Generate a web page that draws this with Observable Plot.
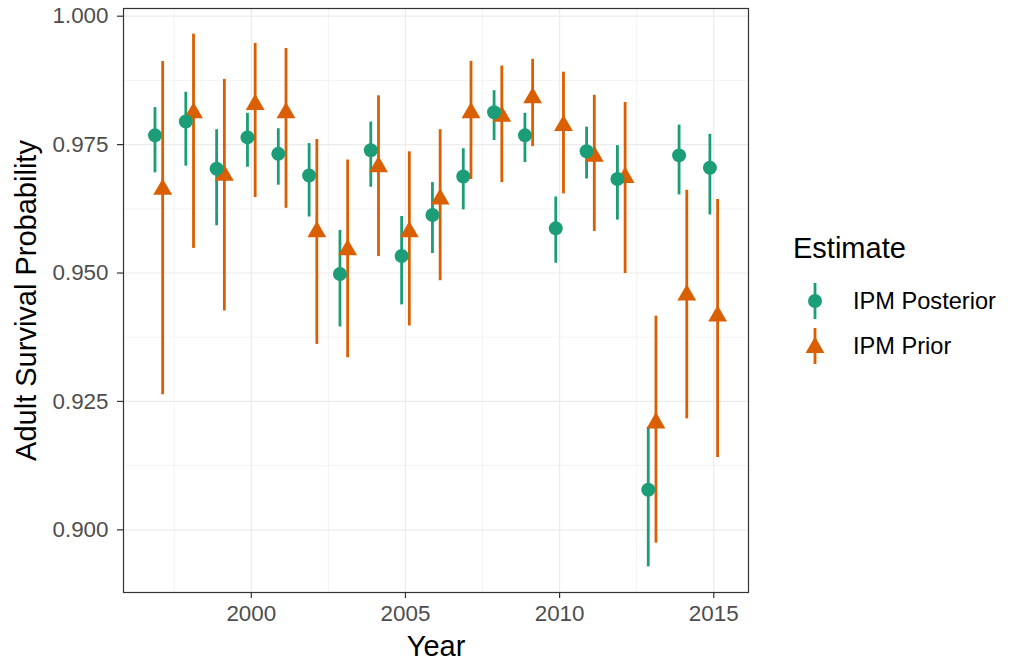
<!DOCTYPE html>
<html>
<head>
<meta charset="utf-8">
<script src="https://cdn.jsdelivr.net/npm/d3@7"></script>
<script src="https://cdn.jsdelivr.net/npm/@observablehq/plot@0.6"></script>
<style>
  body { margin: 0; background: #fff; font-family: "Liberation Sans", Arial, Helvetica, sans-serif; }
  #wrap { position: relative; width: 1010px; height: 665px; }
  #legend { position: absolute; left: 760px; top: 0; }
</style>
</head>
<body>
<div id="wrap"></div>
<script>
// Annual adult survival estimates with credible intervals
const years = [1997, 1998, 1999, 2000, 2001, 2002, 2003, 2004, 2005, 2006,
               2007, 2008, 2009, 2010, 2011, 2012, 2013, 2014, 2015];

const posteriorMean = [0.9768, 0.9795, 0.9703, 0.9764, 0.9732, 0.9690, 0.9498, 0.9739, 0.9533, 0.9613,
                       0.9688, 0.9813, 0.9768, 0.9587, 0.9737, 0.9683, 0.9078, 0.9729, 0.9705];
const posteriorLow  = [0.9695, 0.9708, 0.9592, 0.9706, 0.9671, 0.9609, 0.9395, 0.9667, 0.9438, 0.9538,
                       0.9623, 0.9758, 0.9715, 0.9519, 0.9683, 0.9603, 0.8928, 0.9652, 0.9613];
const posteriorHigh = [0.9822, 0.9852, 0.9779, 0.9811, 0.9781, 0.9752, 0.9583, 0.9794, 0.9610, 0.9676,
                       0.9742, 0.9855, 0.9811, 0.9648, 0.9784, 0.9748, 0.9200, 0.9788, 0.9770];

const priorMean = [0.9663, 0.9812, 0.9690, 0.9828, 0.9812, 0.9580, 0.9545, 0.9707, 0.9580, 0.9644,
                   0.9812, 0.9805, 0.9841, 0.9787, 0.9727, 0.9686, 0.9208, 0.9457, 0.9416];
const priorLow  = [0.9263, 0.9548, 0.9426, 0.9647, 0.9626, 0.9361, 0.9335, 0.9532, 0.9397, 0.9485,
                   0.9682, 0.9676, 0.9746, 0.9654, 0.9581, 0.9499, 0.8974, 0.9216, 0.9141];
const priorHigh = [0.9912, 0.9965, 0.9877, 0.9947, 0.9937, 0.9760, 0.9720, 0.9845, 0.9736, 0.9779,
                   0.9912, 0.9903, 0.9916, 0.9891, 0.9846, 0.9832, 0.9416, 0.9661, 0.9643];

const estimates = ["IPM Posterior", "IPM Prior"];
const estimateColors = ["#1B9E77", "#D95F02"];
const estimateSymbols = ["circle", "triangle"];

const yTicks = [0.900, 0.925, 0.950, 0.975, 1.000];
const yMinor = [0.9125, 0.9375, 0.9625, 0.9875];
const xTicks = [2000, 2005, 2010, 2015];
const xMinor = [1997.5, 2002.5, 2007.5, 2012.5];

// side-by-side offset (in years) between the two estimates of a year
const dodge = 0.125;

const rows = [
  ...years.map((year, i) => ({year, estimate: estimates[0], mean: posteriorMean[i], low: posteriorLow[i], high: posteriorHigh[i]})),
  ...years.map((year, i) => ({year, estimate: estimates[1], mean: priorMean[i], low: priorLow[i], high: priorHigh[i]}))
];
const xPos = d => d.year + (d.estimate === estimates[0] ? -dodge : dodge);
// priors first so the posterior circles sit on top
const drawOrder = [...rows].reverse();

const gridColor = "#EBEBEB";
const inkColor = "#333333";
const fontStack = '"Liberation Sans", Arial, Helvetica, sans-serif';

const chart = Plot.plot({
  width: 1010,
  height: 665,
  marginLeft: 123,
  marginRight: 262,
  marginTop: 8,
  marginBottom: 73,
  style: {fontFamily: fontStack, background: "#fff"},
  x: {domain: [1995.854, 2016.127]},
  y: {domain: [0.8878, 1.0015]},
  color: {domain: estimates, range: estimateColors},
  symbol: {domain: estimates, range: estimateSymbols},
  marks: [
    Plot.gridY(yMinor, {stroke: gridColor, strokeOpacity: 1, strokeWidth: 0.6}),
    Plot.gridX(xMinor, {stroke: gridColor, strokeOpacity: 1, strokeWidth: 0.6}),
    Plot.gridY(yTicks, {stroke: gridColor, strokeOpacity: 1, strokeWidth: 1.2}),
    Plot.gridX(xTicks, {stroke: gridColor, strokeOpacity: 1, strokeWidth: 1.2}),
    Plot.ruleX(drawOrder, {x: xPos, y1: "low", y2: "high", stroke: "estimate", strokeWidth: 2.8}),
    Plot.dot(drawOrder, {x: xPos, y: "mean", fill: "estimate", symbol: "estimate", r: 7, stroke: null}),
    Plot.frame({stroke: inkColor, strokeWidth: 1.2}),
    Plot.axisY(yTicks, {tickSize: 6, tickPadding: 9, tickFormat: d3.format(".3f"), fontSize: 22.4,
                        fill: "#4D4D4D", stroke: inkColor, strokeWidth: 1.2, label: null}),
    Plot.axisY([], {tickSize: 0, label: "Adult Survival Probability", labelAnchor: "center",
                    labelArrow: "none", labelOffset: 108, fontSize: 29, fill: "#000"}),
    Plot.axisX(xTicks, {tickSize: 6, tickPadding: 7, tickFormat: d3.format("d"), fontSize: 22.4,
                        fill: "#4D4D4D", stroke: inkColor, strokeWidth: 1.2, label: null}),
    Plot.axisX([], {tickSize: 0, label: "Year", labelAnchor: "center", labelArrow: "none",
                    labelOffset: 63, fontSize: 29, fill: "#000"})
  ]
});

const wrap = document.getElementById("wrap");
wrap.appendChild(chart);

// Legend: error-bar key with the estimate's symbol drawn through it
const legend = d3.select(wrap).append("svg")
  .attr("id", "legend")
  .attr("width", 250)
  .attr("height", 665)
  .style("font-family", fontStack);

legend.append("text")
  .attr("x", 33).attr("y", 258)
  .attr("font-size", 29).attr("fill", "#000")
  .text("Estimate");

const keyX = 55;
const keyY = [301, 346];
estimates.forEach((name, i) => {
  const g = legend.append("g");
  g.append("line")
    .attr("x1", keyX).attr("x2", keyX)
    .attr("y1", keyY[i] - 18).attr("y2", keyY[i] + 18)
    .attr("stroke", estimateColors[i]).attr("stroke-width", 2.8);
  const symbol = estimateSymbols[i] === "circle" ? d3.symbolCircle : d3.symbolTriangle;
  g.append("path")
    .attr("transform", `translate(${keyX},${keyY[i] + (i === 1 ? 1.5 : 0)})`)
    .attr("d", d3.symbol(symbol, Math.PI * 49)())
    .attr("fill", estimateColors[i]);
  g.append("text")
    .attr("x", 93).attr("y", keyY[i]).attr("dy", "0.35em")
    .attr("font-size", 23.6).attr("fill", "#000")
    .text(name);
});
</script>
</body>
</html>
